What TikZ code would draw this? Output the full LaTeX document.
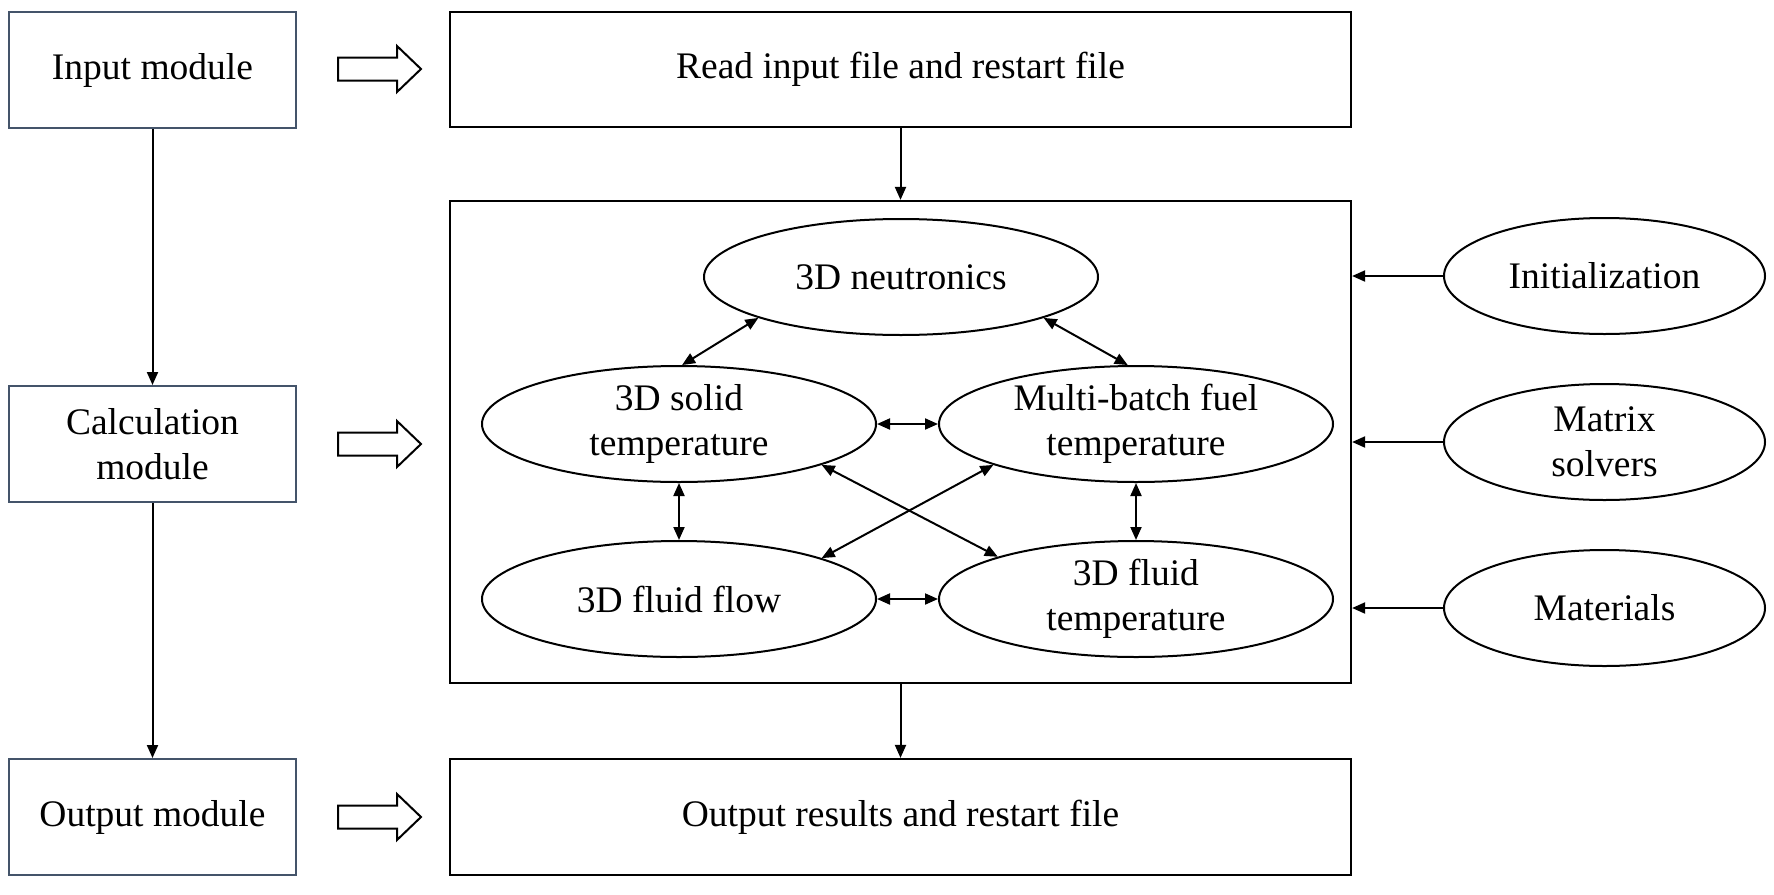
\documentclass[tikz,border=0pt]{standalone}
\usepackage{fontspec}
\setmainfont{Liberation Serif}
\usetikzlibrary{shapes.geometric,arrows.meta}
\definecolor{modblue}{RGB}{68,84,106}
\tikzset{
  every node/.style={font=\fontsize{37.5}{45}\selectfont, align=center, inner sep=0pt},
  modbox/.style={draw=modblue, line width=2pt, rectangle, minimum width=287pt, minimum height=116pt},
  wbox/.style={draw=black, line width=2.2pt, rectangle, minimum width=901pt},
  ell/.style={draw=black, line width=2pt, ellipse, minimum width=394pt, minimum height=116pt},
  rell/.style={draw=black, line width=2pt, ellipse, minimum width=321pt, minimum height=116pt},
  arr/.style={line width=2pt, -{Triangle[length=13pt,width=11pt]}},
  darr/.style={line width=2pt, {Triangle[length=13pt,width=11pt]}-{Triangle[length=13pt,width=11pt]}},
  barrow/.pic={\draw[line width=2pt, fill=white, line join=miter]
     (0,-11.5) -- (59,-11.5) -- (59,-23) -- (83,0) -- (59,23) -- (59,11.5) -- (0,11.5) -- cycle;}
}
\begin{document}
\begin{tikzpicture}[x=1pt,y=-1pt]
\useasboundingbox (0,0) rectangle (1774,894);
% left modules
\node[modbox] (inmod) at (152.5,70) {Input module};
\node[modbox] (calcmod) at (152.5,444) {Calculation\\module};
\node[modbox] (outmod) at (152.5,817) {Output module};
\draw[arr] (inmod.south) -- (calcmod.north);
\draw[arr] (calcmod.south) -- (outmod.north);
% block arrows
\pic at (338,69) {barrow};
\pic at (338,444) {barrow};
\pic at (338,817) {barrow};
% main boxes
\node[wbox, minimum height=115pt] (read) at (900.5,69.5) {Read input file and restart file};
\node[wbox, minimum height=482pt] (core) at (900.5,442) {};
\node[wbox, minimum height=116pt] (outres) at (900.5,817) {Output results and restart file};
\draw[arr] (read.south) -- (core.north);
\draw[arr] (core.south) -- (outres.north);
% inner ellipses
\node[ell] (neu) at (901,277) {3D neutronics};
\node[ell] (solid) at (679,424) {3D solid\\temperature};
\node[ell] (multi) at (1136,424) {Multi-batch fuel\\temperature};
\node[ell] (flow) at (679,599) {3D fluid flow};
\node[ell] (ftemp) at (1136,599) {3D fluid\\temperature};
\draw[darr] (neu.-164) -- (solid.87);
\draw[darr] (neu.-16) -- (multi.98);
\draw[darr] (solid.east) -- (multi.west);
\draw[darr] (flow.east) -- (ftemp.west);
\draw[darr] (solid.south) -- (flow.north);
\draw[darr] (multi.south) -- (ftemp.north);
\draw[darr] (solid.-16) -- (ftemp.163.3);
\draw[darr] (multi.-164.4) -- (flow.16.4);
% right ellipses
\node[rell] (init) at (1604.5,276) {Initialization};
\node[rell] (matrix) at (1604.5,442) {Matrix\\solvers};
\node[rell] (mat) at (1604.5,608) {Materials};
\draw[arr] (init.west) -- (init.west -| core.east);
\draw[arr] (matrix.west) -- (matrix.west -| core.east);
\draw[arr] (mat.west) -- (mat.west -| core.east);
\end{tikzpicture}
\end{document}
